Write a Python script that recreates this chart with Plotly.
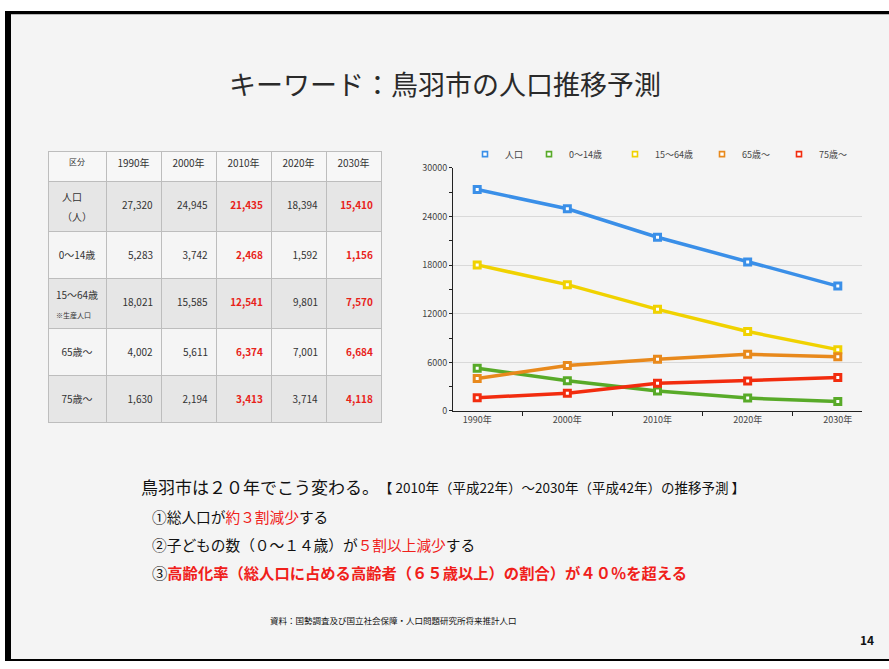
import plotly.graph_objects as go

W, H = 889, 669
FONT = "Noto Sans CJK JP"

years = ["1990年", "2000年", "2010年", "2020年", "2030年"]
series_names = ["人口", "0～14歳", "15～64歳", "65歳～", "75歳～"]
pop_total = [27320, 24945, 21435, 18394, 15410]
pop_0_14 = [5283, 3742, 2468, 1592, 1156]
pop_15_64 = [18021, 15585, 12541, 9801, 7570]
pop_65 = [4002, 5611, 6374, 7001, 6684]
pop_75 = [1630, 2194, 3413, 3714, 4118]
S10 = "<span style='font-size:10px'>{}</span>"
row_labels = [S10.format("人口") + "<br>" + S10.format("（人）"),
              "<br>" + S10.format("0～14歳"),
              S10.format("15～64歳") + "<br><span style='font-size:7px'>※生産人口</span>",
              "<br>" + S10.format("65歳～"),
              "<br>" + S10.format("75歳～")]
colors = ["#3a8fe8", "#58aa28", "#f0d200", "#e8891c", "#f22c0e"]
highlight_years = ["2010年", "2030年"]
y_ticks = [0, 6000, 12000, 18000, 24000, 30000]


def px(x):
    return x / W


def py(y):
    return 1 - y / H


all_series = [pop_total, pop_0_14, pop_15_64, pop_65, pop_75]

fig = go.Figure()

# ---------- table ----------
header_vals = ["区分"] + years
cell_vals = [row_labels]
cell_fonts = [["#333"] * 5]
for j, yr in enumerate(years):
    col = []
    for s in all_series:
        v = f"{s[j]:,}"
        if yr in highlight_years:
            v = f"<b>{v}</b>"
        col.append("<br>" + S10.format(v))
    cell_vals.append(col)
    cell_fonts.append(["#e8221a" if yr in highlight_years else "#333"] * 5)
row_fill = ["#e6e6e6", "#f5f5f5", "#e6e6e6", "#f5f5f5", "#e6e6e6"]

fig.add_trace(go.Table(
    domain=dict(x=[px(48), px(381)], y=[py(429), py(147)]),
    columnwidth=[58, 55, 55, 55, 55, 55],
    header=dict(values=header_vals, height=30, align="center",
                fill_color="#f7f7f7", line=dict(color="#bdbdbd", width=1),
                font=dict(family=FONT, size=[8, 10, 10, 10, 10, 10], color="#333")),
    cells=dict(values=cell_vals, height=47,
               align=["center", "right", "right", "right", "right", "right"],
               fill_color=[row_fill] * 6, line=dict(color="#bdbdbd", width=1),
               font=dict(family=FONT, size=15, color=cell_fonts)),
))

# ---------- line chart ----------
legend_x = [465, 529, 615, 702, 779]
for i, (name, s) in enumerate(zip(series_names, all_series)):
    fig.add_trace(go.Scatter(
        x=years, y=s, mode="lines+markers", name=name, showlegend=False,
        line=dict(color=colors[i], width=3.5),
        marker=dict(symbol="square", size=6, color="white",
                    line=dict(color=colors[i], width=3)),
    ))
for i, name in enumerate(series_names):
    lg = "legend" if i == 0 else f"legend{i+1}"
    fig.add_trace(go.Scatter(
        x=[None], y=[None], mode="markers", name=name, legend=lg,
        marker=dict(symbol="square", size=5, color="white",
                    line=dict(color=colors[i], width=1.6)),
    ))

legend_common = dict(orientation="h", bgcolor="rgba(0,0,0,0)",
                     font=dict(family=FONT, size=9, color="#444"),
                     xanchor="left", yanchor="middle", y=py(150),
                     itemwidth=30)
layout_legends = {}
for i in range(5):
    key = "legend" if i == 0 else f"legend{i+1}"
    layout_legends[key] = dict(legend_common, x=px(legend_x[i]))

fig.update_layout(
    width=W, height=H,
    margin=dict(l=0, r=0, t=0, b=0),
    paper_bgcolor="white", plot_bgcolor="#f4f4f4",
    font=dict(family=FONT, color="#333"),
    xaxis=dict(domain=[px(453), px(862)], type="category",
               showline=True, linecolor="#222", linewidth=1,
               ticks="outside", tickson="boundaries", ticklen=4,
               tickcolor="#222", showgrid=False,
               tickfont=dict(size=9, color="#444")),
    yaxis=dict(domain=[py(412), py(164)], range=[0, 30000],
               tickvals=y_ticks, tickformat="d", showline=True,
               linecolor="#222", linewidth=1, ticks="outside", ticklen=3,
               tickcolor="#222", showgrid=True, gridcolor="#d9d9d9",
               gridwidth=1, zeroline=False,
               tickfont=dict(size=9, color="#444"),
               minor=dict(dtick=3000, ticks="outside", ticklen=3,
                          tickcolor="#222", showgrid=False)),
    **layout_legends,
)

# ---------- slide frame ----------
shapes = [
    dict(type="rect", x0=px(5), x1=px(889), y0=py(667), y1=py(4),
         fillcolor="#f4f4f4", line=dict(width=0), layer="below"),
    dict(type="rect", x0=px(5), x1=px(11), y0=py(667), y1=py(4),
         fillcolor="black", line=dict(width=0), layer="below"),
    dict(type="rect", x0=px(5), x1=px(889), y0=py(7.5), y1=py(4),
         fillcolor="black", line=dict(width=0), layer="below"),
    dict(type="rect", x0=px(5), x1=px(889), y0=py(667), y1=py(665),
         fillcolor="black", line=dict(width=0), layer="below"),
]
for s in shapes:
    s.update(xref="paper", yref="paper")
fig.update_layout(shapes=shapes)

red = "#f0201a"
ann = [
    dict(x=445, y=78, text="キーワード：鳥羽市の人口推移予測", size=27,
         xanchor="center", color="#2a2a2a"),
    dict(x=139, y=489, text="鳥羽市は２０年でこう変わる。", size=17,
         xanchor="left", color="#111"),
    dict(x=377, y=490,
         text="【 2010年（平成22年）～2030年（平成42年）の推移予測 】",
         size=13.5, xanchor="left", color="#111"),
    dict(x=150, y=520,
         text=f"①総人口が<span style='color:{red}'>約３割減少</span>する",
         size=14.7, xanchor="left", color="#111"),
    dict(x=150, y=548,
         text=f"②子どもの数（０～１４歳）が<span style='color:{red}'>５割以上減少</span>する",
         size=14.7, xanchor="left", color="#111"),
    dict(x=150, y=576,
         text=f"③<b><span style='color:{red}'>高齢化率（総人口に占める高齢者（６５歳以上）の割合）が４０％を超える</span></b>",
         size=15.3, xanchor="left", color="#111"),
    dict(x=268, y=625, text="資料：国勢調査及び国立社会保障・人口問題研究所将来推計人口",
         size=8.5, xanchor="left", color="#111"),
    dict(x=876, y=645, text="<b>14</b>", size=12, xanchor="right", color="#111"),
]
for a in ann:
    fig.add_annotation(x=px(a["x"]), y=py(a["y"]), xref="paper", yref="paper",
                       text=a["text"], showarrow=False, xanchor=a["xanchor"],
                       yanchor="middle",
                       font=dict(family=FONT, size=a["size"], color=a["color"]))

fig.write_html("out.html", config={"displayModeBar": False},
               post_script="document.body.style.margin='0px';")
